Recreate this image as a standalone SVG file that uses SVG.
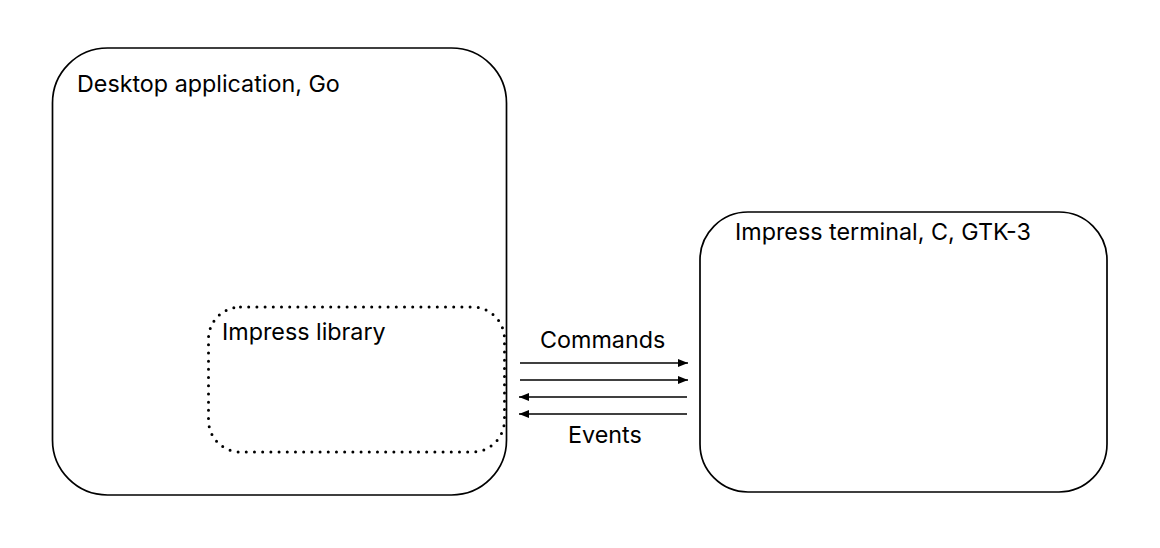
<svg xmlns="http://www.w3.org/2000/svg" width="1160" height="548" viewBox="0 0 1160 548">
<style>
.box{fill:none;stroke:#000;stroke-width:1.7}
.dot{fill:none;stroke:#000;stroke-width:3;stroke-dasharray:0 8.2;stroke-linecap:round}
.lbl{font-family:Inter,"Liberation Sans",Arial,sans-serif;font-size:23.3px;fill:#000}
.ln{stroke:#000;stroke-width:1.4;fill:none}
</style>
<defs>
<marker id="ah" viewBox="0 0 10 8" refX="10" refY="4" markerWidth="10" markerHeight="8" markerUnits="userSpaceOnUse" orient="auto">
<path d="M0,0 L10,4 L0,8 Z" fill="#000"/>
</marker>
</defs>
<rect width="1160" height="548" fill="#fff"/>
<g id="desktop">
<rect class="box" x="52.5" y="48" width="454" height="447" rx="55" ry="55"/>
<text class="lbl" x="77" y="92">Desktop application, Go</text>
</g>
<g id="library">
<rect class="dot" x="208.5" y="307" width="296" height="145" rx="32" ry="32"/>
<text class="lbl" x="222" y="340">Impress library</text>
</g>
<g id="terminal">
<rect class="box" x="700" y="212" width="407" height="280" rx="48" ry="48"/>
<text class="lbl" x="735" y="240">Impress terminal, C, GTK-3</text>
</g>
<g id="connectors">
<line class="ln" x1="520" y1="363" x2="688" y2="363" marker-end="url(#ah)"/>
<line class="ln" x1="520" y1="380" x2="688" y2="380" marker-end="url(#ah)"/>
<line class="ln" x1="687" y1="397" x2="519" y2="397" marker-end="url(#ah)"/>
<line class="ln" x1="687" y1="414" x2="519" y2="414" marker-end="url(#ah)"/>
<text class="lbl" x="540" y="348">Commands</text>
<text class="lbl" x="568" y="443">Events</text>
</g>
</svg>
